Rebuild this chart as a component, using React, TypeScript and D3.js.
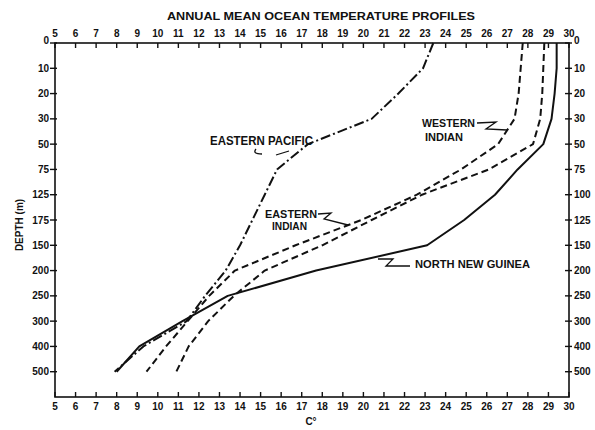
import React from "react";
import * as d3 from "d3";

// Depth levels (m) in plotting order; rows are evenly spaced.
const depths = [0, 10, 20, 30, 50, 75, 100, 125, 150, 200, 250, 300, 400, 500];
// Labels printed down the left edge (as lettered on the chart).
const leftDepthLabels = ["0", "10", "20", "30", "50", "75", "125", "175", "150", "200", "250", "300", "400", "500"];
// Labels printed down the right edge.
const rightDepthLabels = ["0", "10", "20", "30", "50", "75", "100", "125", "150", "200", "250", "300", "400", "500"];
// Temperature ticks, °C.
const tempTicks = d3.range(5, 31);

// Annual mean temperature (°C) at each depth level.
const northNewGuinea = [29.4, 29.4, 29.3, 29.15, 28.75, 27.5, 26.4, 24.9, 23.1, 17.7, 13.4, 11.2, 9.1, 8.0];
const easternPacific = [23.4, 22.9, 21.7, 20.4, 17.3, 15.8, 15.2, 14.6, 14.0, 13.3, 12.3, 11.4, 9.3, 7.9];
const westernIndian = [27.75, 27.65, 27.55, 27.35, 26.55, 24.75, 22.6, 19.9, 16.7, 13.75, 12.5, 11.45, 10.4, 9.45];
const easternIndian = [28.8, 28.75, 28.7, 28.6, 28.25, 26.1, 22.85, 20.4, 18.0, 15.2, 13.7, 12.45, 11.5, 10.9];

const series = [
  { name: "North New Guinea", values: northNewGuinea, dash: "none" },
  { name: "Eastern Pacific", values: easternPacific, dash: "10 3 2 3" },
  { name: "Western Indian", values: westernIndian, dash: "7 4" },
  { name: "Eastern Indian", values: easternIndian, dash: "7 4" },
];

const W = 595;
const H = 430;
const left = 55;
const right = 569;
const top = 43;
const bottom = 397;

const FONT = "'Liberation Sans', Arial, sans-serif";

export default function App() {
  const x = d3.scaleLinear().domain([5, 30]).range([left, right]);
  // one empty row below the deepest level
  const y = d3.scaleLinear().domain([0, depths.length]).range([top, bottom]);

  const line = d3
    .line<number>()
    .x((d) => x(d))
    .y((_, i) => y(i));

  const label = {
    fontFamily: FONT,
    fontWeight: 700 as const,
    fill: "#111",
  };

  return (
    <svg
      width={W}
      height={H}
      viewBox={`0 0 ${W} ${H}`}
      style={{ position: "absolute", left: 0, top: 0, background: "#fff" }}
    >
      <rect x={0} y={0} width={W} height={H} fill="#fff" />

      {/* title */}
      <text x={321} y={19.5} textAnchor="middle" fontSize={11} textLength={308} lengthAdjust="spacingAndGlyphs" {...label}>
        ANNUAL MEAN OCEAN TEMPERATURE PROFILES
      </text>

      {/* frame */}
      <rect x={left} y={top} width={right - left} height={bottom - top} fill="none" stroke="#111" strokeWidth={1.6} />

      {/* temperature ticks, top and bottom */}
      {tempTicks.map((t) => (
        <g key={`t${t}`}>
          <line x1={x(t)} x2={x(t)} y1={top} y2={top + 5} stroke="#111" strokeWidth={1.4} />
          <line x1={x(t)} x2={x(t)} y1={bottom} y2={bottom - 5} stroke="#111" strokeWidth={1.4} />
          <text x={x(t)} y={37} textAnchor="middle" fontSize={10} {...label}>
            {t}
          </text>
          <text x={x(t)} y={410} textAnchor="middle" fontSize={10} {...label}>
            {t}
          </text>
        </g>
      ))}

      {/* depth ticks, left and right */}
      {depths.map((_, i) => (
        <g key={`d${i}`}>
          <line x1={left - 5} x2={left + 2} y1={y(i)} y2={y(i)} stroke="#111" strokeWidth={1.4} />
          <line x1={right - 4} x2={right + 3} y1={y(i)} y2={y(i)} stroke="#111" strokeWidth={1.4} />
          <text x={left - 6} y={y(i)} dy={i === 0 ? "0.1em" : "0.35em"} textAnchor="end" fontSize={10} {...label}>
            {leftDepthLabels[i]}
          </text>
          <text x={right + 5} y={y(i)} dy={i === 0 ? "0.1em" : "0.35em"} textAnchor="start" fontSize={10} {...label}>
            {rightDepthLabels[i]}
          </text>
        </g>
      ))}

      {/* axis titles */}
      <text transform="translate(23,225) rotate(-90)" textAnchor="middle" fontSize={10} {...label}>
        DEPTH (m)
      </text>
      <text x={311} y={425} textAnchor="middle" fontSize={10} {...label}>
        C°
      </text>

      {/* profiles */}
      {series.map((s) => (
        <path
          key={s.name}
          d={line(s.values) ?? ""}
          fill="none"
          stroke="#111"
          strokeWidth={2}
          strokeDasharray={s.dash}
          strokeLinejoin="round"
        />
      ))}

      {/* annotations */}
      <text x={210} y={145} fontSize={12} textLength={103} lengthAdjust="spacingAndGlyphs" {...label}>
        EASTERN PACIFIC
      </text>
      <path d="M256,149 Q252,154 262,154 M276,155 L289,151" fill="none" stroke="#111" strokeWidth={1.3} />

      <text x={422} y={127} fontSize={11} textLength={53} lengthAdjust="spacingAndGlyphs" {...label}>
        WESTERN
      </text>
      <text x={425} y={141} fontSize={11} textLength={38} lengthAdjust="spacingAndGlyphs" {...label}>
        INDIAN
      </text>
      <path d="M477,123 L496,122 L486,129 L507,130" fill="none" stroke="#111" strokeWidth={1.3} />

      <text x={265} y={218} fontSize={11} textLength={52} lengthAdjust="spacingAndGlyphs" {...label}>
        EASTERN
      </text>
      <text x={272} y={230} fontSize={11} textLength={35} lengthAdjust="spacingAndGlyphs" {...label}>
        INDIAN
      </text>
      <path d="M318,214 L331,213 L324,219 L348,225" fill="none" stroke="#111" strokeWidth={1.3} />

      <text x={415} y={268} fontSize={11} textLength={115} lengthAdjust="spacingAndGlyphs" {...label}>
        NORTH NEW GUINEA
      </text>
      <path d="M378,259 L393,259 L386,266 L410,266" fill="none" stroke="#111" strokeWidth={1.3} />
    </svg>
  );
}
